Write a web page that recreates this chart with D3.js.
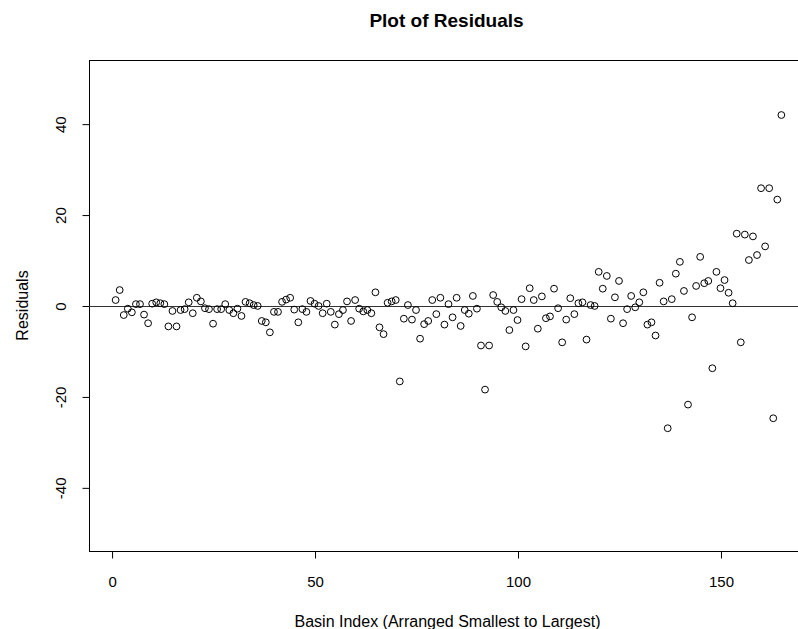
<!DOCTYPE html>
<html>
<head>
<meta charset="utf-8">
<script src="https://cdn.jsdelivr.net/npm/d3@7"></script>
<style>
  html, body { margin: 0; padding: 0; background: #fff; }
  svg { display: block; font-family: "Liberation Sans", Arial, sans-serif; }
</style>
</head>
<body>
<svg id="chart" width="798" height="629"></svg>
<script>
const residuals = [
  1.2, 3.4, -2.1, -0.7, -1.5, 0.3, 0.3, -2.0, -3.9, 0.4,
  0.7, 0.5, 0.3, -4.6, -1.2, -4.6, -1.0, -0.8, 0.7, -1.7,
  1.7, 0.9, -0.6, -0.8, -4.0, -0.8, -0.8, 0.3, -1.0, -1.7,
  -0.7, -2.3, 0.8, 0.5, 0.1, -0.1, -3.4, -3.7, -5.9, -1.4,
  -1.4, 0.8, 1.3, 1.7, -0.9, -3.7, -0.8, -1.4, 1.0, 0.4,
  -0.1, -1.7, 0.4, -1.4, -4.2, -1.9, -1.0, 0.9, -3.4, 1.2,
  -0.7, -1.3, -1.0, -1.7, 2.9, -4.8, -6.3, 0.6, 0.9, 1.2,
  -16.7, -2.9, 0.1, -3.1, -1.0, -7.3, -4.1, -3.4, 1.2, -1.9,
  1.7, -4.2, 0.3, -2.6, 1.7, -4.5, -1.0, -1.8, 2.1, -0.7,
  -8.8, -18.5, -8.8, 2.3, 0.8, -0.4, -1.2, -5.4, -1.0, -3.2,
  1.4, -9.0, 3.8, 1.2, -5.1, 2.0, -2.8, -2.4, 3.7, -0.6,
  -8.1, -3.1, 1.6, -1.9, 0.5, 0.7, -7.5, 0.1, -0.1, 7.4,
  3.7, 6.5, -2.9, 1.8, 5.4, -3.9, -0.8, 2.1, -0.4, 0.7,
  2.9, -4.2, -3.7, -6.6, 5.0, 0.9, -27.0, 1.4, 7.0, 9.6,
  3.2, -21.8, -2.6, 4.3, 10.7, 4.9, 5.4, -13.8, 7.4, 3.8,
  5.6, 2.8, 0.5, 15.8, -8.1, 15.6, 10.0, 15.2, 11.1, 25.8,
  13.0, 25.8, -24.8, 23.3, 41.9
];
const basinIndex = residuals.map((_, i) => i + 1);
const xTicks = [0, 50, 100, 150];
const yTicks = [-40, -20, 0, 20, 40];
const titleText = "Plot of Residuals";
const xLabel = "Basin Index (Arranged Smallest to Largest)";
const yLabel = "Residuals";

(function () {
const svg = d3.select("#chart");
const pL = 89, pR = 808, pT = 60, pB = 551;

const x = d3.scaleLinear().domain([-5.56, 171.56]).range([pL, pR]);
const y = d3.scaleLinear().domain([-54, 54]).range([pB, pT]);
const fmt = d => String(d);

// plot box
svg.append("rect")
  .attr("x", pL + 0.5).attr("y", pT + 0.5)
  .attr("width", pR - pL).attr("height", pB - pT)
  .attr("fill", "none").attr("stroke", "#000").attr("stroke-width", 1);

// x axis
const xAxis = svg.append("g").attr("transform", `translate(0.5,${pB + 0.5})`)
  .call(d3.axisBottom(x).tickValues(xTicks).tickSize(7).tickPadding(18).tickFormat(fmt));
xAxis.select(".domain").remove();
xAxis.selectAll("text").attr("font-size", 15).attr("fill", "#000")
  .attr("font-family", "Liberation Sans, Arial, sans-serif");

// y axis
const yAxis = svg.append("g").attr("transform", `translate(${pL + 0.5},0.5)`)
  .call(d3.axisLeft(y).tickValues(yTicks).tickSize(7).tickFormat(fmt));
yAxis.select(".domain").remove();
yAxis.selectAll("text")
  .attr("font-size", 15).attr("fill", "#000")
  .attr("font-family", "Liberation Sans, Arial, sans-serif")
  .attr("text-anchor", "middle")
  .attr("x", null)
  .attr("transform", "translate(-29,0) rotate(-90)")
  .attr("y", 0).attr("dy", "0.35em");

// zero line
svg.append("line")
  .attr("x1", pL).attr("x2", pR)
  .attr("y1", Math.round(y(0)) + 0.5).attr("y2", Math.round(y(0)) + 0.5)
  .attr("stroke", "#333").attr("stroke-width", 1.2);

// points
svg.append("g").selectAll("circle")
  .data(residuals)
  .join("circle")
  .attr("cx", (d, i) => x(basinIndex[i]))
  .attr("cy", d => y(d))
  .attr("r", 3.4)
  .attr("fill", "none")
  .attr("stroke", "#000")
  .attr("stroke-width", 1);

// title
svg.append("text")
  .attr("x", (pL + pR) / 2 - 2).attr("y", 27)
  .attr("text-anchor", "middle")
  .attr("font-size", 19).attr("font-weight", "bold")
  .text(titleText);

// x label
svg.append("text")
  .attr("x", (pL + pR) / 2 - 1).attr("y", 627)
  .attr("text-anchor", "middle")
  .attr("font-size", 16)
  .text(xLabel);

// y label
svg.append("text")
  .attr("transform", `translate(28,${(pT + pB) / 2}) rotate(-90)`)
  .attr("text-anchor", "middle")
  .attr("font-size", 16)
  .text(yLabel);
})();
</script>
</body>
</html>
